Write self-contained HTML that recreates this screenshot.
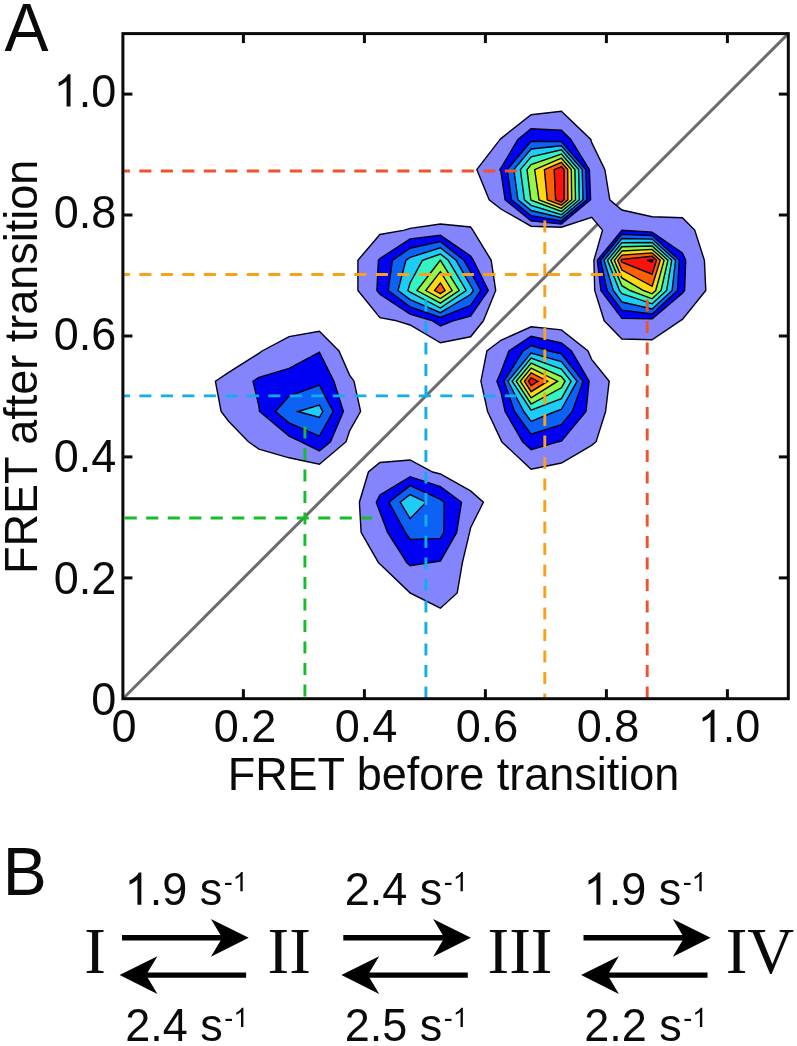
<!DOCTYPE html>
<html><head><meta charset="utf-8"><title>FRET transition density</title>
<style>
html,body{margin:0;padding:0;background:#fff;}
body{width:797px;height:1046px;overflow:hidden;}
svg{display:block;will-change:transform;}
text{font-family:"Liberation Sans",sans-serif;fill:#0a0a0a;}
.serif{font-family:"Liberation Serif",serif;}
.o{fill-opacity:0;}
</style></head><body>
<svg width="797" height="1046" viewBox="0 0 797 1046">
<rect x="0" y="0" width="797" height="1046" fill="#ffffff"></rect>
<g id="diag"><line x1="122.9" y1="698.7" x2="788.3" y2="33.6" stroke="#6c6c6c" stroke-width="3"></line></g>
<g id="contours" stroke="#000010" stroke-width="1.4" stroke-linejoin="miter">
<polygon fill="#8484fd" points="410.1,592.9 410.1,593.0 440.4,608.2 457.2,592.9 462.4,562.7 469.6,532.4 470.6,527.8 483.4,502.2 470.6,490.9 440.4,474.0 432.7,472.0 410.1,460.0 379.9,462.5 368.4,472.0 359.4,502.2 361.1,532.4 378.5,562.7 379.9,564.1 410.1,592.9"></polygon>
<polygon fill="#8484fd" points="248.4,441.7 258.9,449.1 289.1,457.8 319.4,464.2 346.1,441.7 349.6,430.9 360.6,411.5 354.0,381.2 349.6,375.1 339.0,351.0 319.4,331.3 289.1,336.6 262.1,351.0 258.9,353.3 228.7,372.3 215.4,381.2 221.1,411.5 228.6,421.3 248.4,441.7"></polygon>
<polygon fill="#8484fd" points="501.6,441.7 531.1,469.2 561.4,463.0 591.6,445.4 596.1,441.7 605.6,411.5 609.2,381.2 591.6,359.4 588.0,351.0 561.4,329.9 531.1,326.8 500.9,340.3 486.9,351.0 480.9,381.2 487.6,411.5 500.9,439.9 501.6,441.7"></polygon>
<polygon fill="#8484fd" points="396.6,320.8 410.1,325.0 440.4,342.8 470.6,336.8 483.4,320.8 495.7,290.5 491.2,260.3 472.8,230.1 470.6,227.0 440.4,224.0 410.1,228.4 404.6,230.1 379.9,234.5 357.9,260.3 357.9,290.5 379.9,317.7 396.6,320.8"></polygon>
<polygon fill="#8484fd" points="604.2,320.8 621.9,339.0 652.1,339.8 680.1,320.8 682.4,319.4 705.8,290.5 704.4,260.3 694.7,230.1 682.4,217.8 652.1,216.8 621.9,210.0 609.8,199.8 604.9,169.6 591.6,142.4 590.8,139.4 561.4,111.2 531.1,114.7 500.9,138.6 500.1,139.4 476.8,169.6 489.2,199.8 500.9,209.0 531.1,226.2 561.4,227.2 591.7,217.3 602.5,230.1 593.9,260.3 594.7,290.5 604.2,320.8"></polygon>
<polygon fill="#0000f2" points="406.9,562.7 410.1,565.8 428.8,562.7 440.4,561.1 456.7,532.4 461.5,502.2 440.4,486.7 410.1,476.7 379.9,495.0 376.3,502.2 379.9,512.1 387.6,532.4 406.9,562.7"></polygon>
<polygon fill="#0000f2" points="300.6,441.7 319.4,451.0 330.5,441.7 343.4,411.5 333.9,381.2 319.4,352.2 289.1,368.4 258.9,377.3 253.0,381.2 258.9,406.2 259.5,411.5 289.1,436.1 300.6,441.7"></polygon>
<polygon fill="#0000f2" points="522.6,441.7 531.1,449.7 558.7,441.7 561.4,441.1 586.0,411.5 589.1,381.2 571.5,351.0 561.4,343.0 531.1,336.2 508.9,351.0 500.9,372.1 496.9,381.2 500.9,391.9 505.1,411.5 522.6,441.7"></polygon>
<polygon fill="#0000f2" points="432.6,320.8 440.4,326.0 453.1,320.8 470.6,316.2 488.3,290.5 473.4,260.3 470.6,256.1 440.4,235.3 410.1,238.9 379.9,258.6 378.4,260.3 376.9,290.5 379.9,294.3 410.1,314.2 432.6,320.8"></polygon>
<polygon fill="#0000f2" points="600.9,290.5 621.9,318.4 652.2,318.9 682.4,293.2 684.6,290.5 685.7,260.3 682.4,252.9 652.1,232.1 621.9,230.2 597.3,260.3 600.9,290.5"></polygon>
<polygon fill="#0000f2" points="505.1,199.8 531.1,220.9 561.4,224.1 590.6,199.8 589.4,169.6 570.8,139.4 561.4,130.3 531.1,128.7 517.9,139.4 500.9,168.2 499.8,169.6 500.9,171.7 505.1,199.8"></polygon>
<polygon fill="#0c62f4" points="405.4,532.4 410.1,539.5 440.4,538.4 443.8,532.4 444.2,502.2 440.4,499.4 410.1,485.6 388.9,502.2 405.4,532.4"></polygon>
<polygon fill="#0c62f4" points="275.4,411.5 289.1,422.9 319.4,436.2 333.1,411.5 319.4,385.2 289.1,396.1 275.4,411.5"></polygon>
<polygon fill="#0c62f4" points="514.5,411.5 531.1,434.2 561.4,424.6 572.3,411.5 583.1,381.2 561.4,353.9 549.2,351.0 531.1,345.6 523.1,351.0 504.0,381.2 514.5,411.5"></polygon>
<polygon fill="#0c62f4" points="388.2,290.5 410.1,306.9 440.4,317.5 470.6,305.3 480.8,290.5 470.6,271.9 464.0,260.3 440.4,241.6 410.1,248.2 392.4,260.3 388.2,290.5"></polygon>
<polygon fill="#0c62f4" points="607.1,290.5 621.9,310.2 652.1,313.9 677.5,290.5 679.3,260.3 652.1,235.6 621.9,234.4 600.7,260.3 607.1,290.5"></polygon>
<polygon fill="#0c62f4" points="511.5,199.8 531.2,215.7 561.4,220.9 586.8,199.8 585.8,169.6 561.4,141.6 531.1,141.2 507.2,169.6 511.5,199.8"></polygon>
<polygon fill="#1ecdf6" points="400.2,502.2 410.1,518.7 426.1,502.2 410.1,494.5 400.2,502.2"></polygon>
<polygon fill="#1ecdf6" points="298.0,411.5 319.4,417.5 322.7,411.5 319.4,405.1 298.0,411.5"></polygon>
<polygon fill="#1ecdf6" points="523.8,411.5 531.1,421.5 555.3,411.5 561.4,409.3 577.1,381.2 561.4,361.5 531.1,353.1 508.0,381.2 523.8,411.5"></polygon>
<polygon fill="#1ecdf6" points="398.0,290.5 410.1,299.6 440.4,312.7 470.6,294.5 473.4,290.5 470.6,285.6 456.1,260.3 440.4,247.8 410.1,257.4 405.9,260.3 398.0,290.5"></polygon>
<polygon fill="#1ecdf6" points="613.3,290.5 621.9,302.0 652.1,308.9 672.1,290.5 675.5,260.3 652.1,239.1 621.9,238.5 604.1,260.3 613.3,290.5"></polygon>
<polygon fill="#1ecdf6" points="518.0,199.8 531.1,210.5 561.4,217.8 583.0,199.8 582.2,169.6 561.4,145.7 531.1,149.0 513.8,169.6 518.0,199.8"></polygon>
<polygon fill="#34f4c2" points="512.1,381.2 531.1,410.2 561.4,398.6 571.1,381.2 561.4,369.1 531.1,358.1 512.1,381.2"></polygon>
<polygon fill="#34f4c2" points="407.9,290.5 410.1,292.2 440.4,308.0 466.2,290.5 448.3,260.3 440.4,254.0 422.4,260.3 410.1,282.9 407.9,290.5"></polygon>
<polygon fill="#34f4c2" points="619.5,290.5 621.9,293.7 652.1,303.8 666.6,290.5 671.7,260.3 652.1,242.5 621.9,242.7 607.5,260.3 619.5,290.5"></polygon>
<polygon fill="#34f4c2" points="524.4,199.8 531.1,205.3 561.4,214.7 579.3,199.8 578.6,169.6 561.4,149.9 531.1,156.8 520.4,169.6 524.4,199.8"></polygon>
<polygon fill="#96f846" points="516.2,381.2 531.1,404.0 561.4,387.8 565.1,381.2 561.4,376.6 531.2,363.0 516.2,381.2"></polygon>
<polygon fill="#96f846" points="416.9,290.5 440.4,303.2 459.2,290.5 440.4,260.3 440.4,260.3 440.3,260.3 416.9,290.5"></polygon>
<polygon fill="#96f846" points="630.1,290.5 652.1,298.8 661.1,290.5 667.9,260.3 652.1,246.0 621.9,246.8 610.9,260.3 621.9,285.7 630.1,290.5"></polygon>
<polygon fill="#96f846" points="530.8,199.8 531.1,200.1 561.4,211.5 575.5,199.8 574.9,169.6 561.4,154.0 531.1,164.6 527.0,169.6 530.8,199.8"></polygon>
<polygon fill="#ffda10" points="520.2,381.2 531.1,397.8 557.6,381.2 531.1,368.0 520.2,381.2"></polygon>
<polygon fill="#ffda10" points="425.7,290.5 440.4,298.5 452.1,290.5 440.4,271.6 425.7,290.5"></polygon>
<polygon fill="#ffda10" points="643.5,290.5 652.1,293.8 655.7,290.5 664.1,260.3 652.1,249.4 621.9,251.0 614.3,260.3 621.9,277.9 643.5,290.5"></polygon>
<polygon fill="#ffda10" points="539.0,199.8 561.4,208.4 571.7,199.8 571.3,169.6 561.4,158.2 534.7,169.6 539.0,199.8"></polygon>
<polygon fill="#ff6004" points="524.3,381.2 531.1,391.7 547.8,381.2 531.1,372.9 524.3,381.2"></polygon>
<polygon fill="#ff6004" points="434.5,290.5 440.4,293.7 445.1,290.5 440.4,283.0 434.5,290.5"></polygon>
<polygon fill="#ff6004" points="617.7,260.3 621.9,270.1 652.1,286.3 660.3,260.3 652.1,252.9 621.9,255.1 617.7,260.3"></polygon>
<polygon fill="#ff6004" points="547.3,199.8 561.4,205.2 567.9,199.8 567.7,169.6 561.4,162.4 544.4,169.6 547.3,199.8"></polygon>
<polygon fill="#fa120c" points="528.3,381.2 531.1,385.5 537.9,381.2 531.1,377.8 528.3,381.2"></polygon>
<polygon fill="#fa120c" points="621.1,260.3 621.9,262.2 652.1,274.2 656.5,260.3 652.1,256.3 621.9,259.3 621.1,260.3"></polygon>
<polygon fill="#fa120c" points="555.6,199.8 561.4,202.1 564.1,199.8 564.1,169.6 561.4,166.5 554.2,169.6 555.6,199.8"></polygon>
<polygon fill="#8c0000" points="647.2,260.3 652.1,262.1 652.7,260.3 652.1,259.8 647.2,260.3"></polygon>
</g>
<g id="dashes" fill="none" stroke-width="2.9">
<line x1="123.0" y1="171.0" x2="517.2" y2="171.0" stroke="#f0522d" stroke-dasharray="12.1 9.4" stroke-dashoffset="5.2"></line>
<line x1="123.0" y1="274.5" x2="621.6" y2="274.5" stroke="#f9a11b" stroke-dasharray="12.1 9.4" stroke-dashoffset="5.2"></line>
<line x1="123.0" y1="395.9" x2="516.6" y2="395.9" stroke="#10aeea" stroke-dasharray="12.1 9.4" stroke-dashoffset="5.2"></line>
<line x1="123.0" y1="518.0" x2="372.3" y2="518.0" stroke="#14be2a" stroke-dasharray="12.1 9.4" stroke-dashoffset="19.8"></line>
<line x1="304.9" y1="426.5" x2="304.9" y2="697.5" stroke="#14be2a" stroke-dasharray="12 9.5" stroke-dashoffset="0"></line>
<line x1="425.9" y1="299.5" x2="425.9" y2="697.5" stroke="#10aeea" stroke-dasharray="12 9.5" stroke-dashoffset="0"></line>
<line x1="544.8" y1="220.5" x2="544.8" y2="697.5" stroke="#f9a11b" stroke-dasharray="12 9.5" stroke-dashoffset="0"></line>
<line x1="647.2" y1="299.5" x2="647.2" y2="697.5" stroke="#f0522d" stroke-dasharray="12 9.5" stroke-dashoffset="0"></line>
</g>
<g id="frame" stroke="#0a0a0a" stroke-width="3" fill="none">
<rect x="122.9" y="33.6" width="665.4" height="665.1"></rect>
<line x1="243.4" y1="698.7" x2="243.4" y2="689.2"></line><line x1="243.4" y1="33.6" x2="243.4" y2="43.1"></line><line x1="122.9" y1="577.9" x2="132.4" y2="577.9"></line><line x1="788.3" y1="577.9" x2="778.8" y2="577.9"></line>
<line x1="364.4" y1="698.7" x2="364.4" y2="689.2"></line><line x1="364.4" y1="33.6" x2="364.4" y2="43.1"></line><line x1="122.9" y1="456.9" x2="132.4" y2="456.9"></line><line x1="788.3" y1="456.9" x2="778.8" y2="456.9"></line>
<line x1="485.4" y1="698.7" x2="485.4" y2="689.2"></line><line x1="485.4" y1="33.6" x2="485.4" y2="43.1"></line><line x1="122.9" y1="336.0" x2="132.4" y2="336.0"></line><line x1="788.3" y1="336.0" x2="778.8" y2="336.0"></line>
<line x1="606.4" y1="698.7" x2="606.4" y2="689.2"></line><line x1="606.4" y1="33.6" x2="606.4" y2="43.1"></line><line x1="122.9" y1="215.0" x2="132.4" y2="215.0"></line><line x1="788.3" y1="215.0" x2="778.8" y2="215.0"></line>
<line x1="727.4" y1="698.7" x2="727.4" y2="689.2"></line><line x1="727.4" y1="33.6" x2="727.4" y2="43.1"></line><line x1="122.9" y1="94.1" x2="132.4" y2="94.1"></line><line x1="788.3" y1="94.1" x2="778.8" y2="94.1"></line>
</g>
<g id="ticklabels" font-size="45">
<g transform="translate(124.00,741.90) scale(1,1.042)"><text text-anchor="middle">0</text></g><g transform="translate(245.00,741.90) scale(1,1.042)"><text text-anchor="middle">0.2</text></g><g transform="translate(366.00,741.90) scale(1,1.042)"><text text-anchor="middle">0.4</text></g><g transform="translate(487.00,741.90) scale(1,1.042)"><text text-anchor="middle">0.6</text></g><g transform="translate(608.00,741.90) scale(1,1.042)"><text text-anchor="middle">0.8</text></g><g transform="translate(729.00,741.90) scale(1,1.042)"><text text-anchor="middle"><tspan class="o">1</tspan>.0</text><path d="M763 0H583V1098Q518 1039 412.5 979Q307 920 223 890V1057Q374 1125 487 1221Q600 1318 647 1409H763Z" fill="#0a0a0a" transform="translate(-31.27,0.00) scale(0.02197,-0.02197)"></path></g>
<g transform="translate(116.30,715.30) scale(1,1.042)"><text text-anchor="end">0</text></g><g transform="translate(116.30,593.54) scale(1,1.042)"><text text-anchor="end">0.2</text></g><g transform="translate(116.30,471.78) scale(1,1.042)"><text text-anchor="end">0.4</text></g><g transform="translate(116.30,350.02) scale(1,1.042)"><text text-anchor="end">0.6</text></g><g transform="translate(116.30,228.26) scale(1,1.042)"><text text-anchor="end">0.8</text></g><g transform="translate(116.30,106.50) scale(1,1.042)"><text text-anchor="end"><tspan class="o">1</tspan>.0</text><path d="M763 0H583V1098Q518 1039 412.5 979Q307 920 223 890V1057Q374 1125 487 1221Q600 1318 647 1409H763Z" fill="#0a0a0a" transform="translate(-62.55,0.00) scale(0.02197,-0.02197)"></path></g>
</g>
<g transform="translate(453.50,789.60) scale(1,1.042)"><text font-size="45" text-anchor="middle">FRET before transition</text></g>
<g transform="translate(36.9,366.9) rotate(-90) scale(1,1.042)"><text font-size="45" text-anchor="middle">FRET after transition</text></g>
<g transform="translate(4.40,50.80) scale(1,1.042)"><text font-size="66">A</text></g>
<g transform="translate(2.80,894.60) scale(1,1.042)"><text font-size="66">B</text></g>
<g id="states" font-size="65">
<text class="serif" x="95.0" y="972.6" text-anchor="middle">I</text><text class="serif" x="289.2" y="972.6" text-anchor="middle">II</text><text class="serif" x="520.0" y="972.6" text-anchor="middle">III</text><text class="serif" x="760.0" y="972.6" text-anchor="middle">IV</text>
</g>
<g id="arrows">
<line x1="122.0" y1="937.8" x2="224.7" y2="937.8" stroke="#000" stroke-width="5.4"></line><polygon fill="#000" points="248.7,937.8 210.9,918.9 222.2,937.8 210.9,956.7"></polygon>
<line x1="143.6" y1="975.1" x2="246.1" y2="975.1" stroke="#000" stroke-width="5.4"></line><polygon fill="#000" points="119.6,975.1 157.4,956.2 146.1,975.1 157.4,994.0"></polygon>
<line x1="343.3" y1="937.8" x2="446.9" y2="937.8" stroke="#000" stroke-width="5.4"></line><polygon fill="#000" points="470.9,937.8 433.1,918.9 444.4,937.8 433.1,956.7"></polygon>
<line x1="365.4" y1="975.1" x2="467.8" y2="975.1" stroke="#000" stroke-width="5.4"></line><polygon fill="#000" points="341.4,975.1 379.2,956.2 367.9,975.1 379.2,994.0"></polygon>
<line x1="583.5" y1="937.8" x2="686.6" y2="937.8" stroke="#000" stroke-width="5.4"></line><polygon fill="#000" points="710.6,937.8 672.8,918.9 684.1,937.8 672.8,956.7"></polygon>
<line x1="605.1" y1="975.1" x2="707.5" y2="975.1" stroke="#000" stroke-width="5.4"></line><polygon fill="#000" points="581.1,975.1 618.9,956.2 607.6,975.1 618.9,994.0"></polygon>
</g>
<g id="rates" font-size="45">
<g transform="translate(124.60,904.80) scale(1,1.042)"><text><tspan class="o">1</tspan>.9 s<tspan font-size="27" dx="1.5" dy="-13">-<tspan class="o">1</tspan></tspan></text><path d="M763 0H583V1098Q518 1039 412.5 979Q307 920 223 890V1057Q374 1125 487 1221Q600 1318 647 1409H763Z" fill="#0a0a0a" transform="translate(108.04,-13.00) scale(0.01318,-0.01318)"></path><path d="M763 0H583V1098Q518 1039 412.5 979Q307 920 223 890V1057Q374 1125 487 1221Q600 1318 647 1409H763Z" fill="#0a0a0a" transform="translate(0.00,0.00) scale(0.02197,-0.02197)"></path></g>
<g transform="translate(125.30,1040.60) scale(1,1.042)"><text>2.4 s<tspan font-size="27" dx="1.5" dy="-13">-<tspan class="o">1</tspan></tspan></text><path d="M763 0H583V1098Q518 1039 412.5 979Q307 920 223 890V1057Q374 1125 487 1221Q600 1318 647 1409H763Z" fill="#0a0a0a" transform="translate(108.02,-13.00) scale(0.01318,-0.01318)"></path></g>
<g transform="translate(344.80,904.80) scale(1,1.042)"><text>2.4 s<tspan font-size="27" dx="1.5" dy="-13">-<tspan class="o">1</tspan></tspan></text><path d="M763 0H583V1098Q518 1039 412.5 979Q307 920 223 890V1057Q374 1125 487 1221Q600 1318 647 1409H763Z" fill="#0a0a0a" transform="translate(108.02,-13.00) scale(0.01318,-0.01318)"></path></g>
<g transform="translate(344.80,1040.60) scale(1,1.042)"><text>2.5 s<tspan font-size="27" dx="1.5" dy="-13">-<tspan class="o">1</tspan></tspan></text><path d="M763 0H583V1098Q518 1039 412.5 979Q307 920 223 890V1057Q374 1125 487 1221Q600 1318 647 1409H763Z" fill="#0a0a0a" transform="translate(108.02,-13.00) scale(0.01318,-0.01318)"></path></g>
<g transform="translate(583.60,904.80) scale(1,1.042)"><text><tspan class="o">1</tspan>.9 s<tspan font-size="27" dx="1.5" dy="-13">-<tspan class="o">1</tspan></tspan></text><path d="M763 0H583V1098Q518 1039 412.5 979Q307 920 223 890V1057Q374 1125 487 1221Q600 1318 647 1409H763Z" fill="#0a0a0a" transform="translate(108.04,-13.00) scale(0.01318,-0.01318)"></path><path d="M763 0H583V1098Q518 1039 412.5 979Q307 920 223 890V1057Q374 1125 487 1221Q600 1318 647 1409H763Z" fill="#0a0a0a" transform="translate(0.00,0.00) scale(0.02197,-0.02197)"></path></g>
<g transform="translate(584.20,1040.60) scale(1,1.042)"><text>2.2 s<tspan font-size="27" dx="1.5" dy="-13">-<tspan class="o">1</tspan></tspan></text><path d="M763 0H583V1098Q518 1039 412.5 979Q307 920 223 890V1057Q374 1125 487 1221Q600 1318 647 1409H763Z" fill="#0a0a0a" transform="translate(108.02,-13.00) scale(0.01318,-0.01318)"></path></g>
</g>
</svg>

</body></html>
